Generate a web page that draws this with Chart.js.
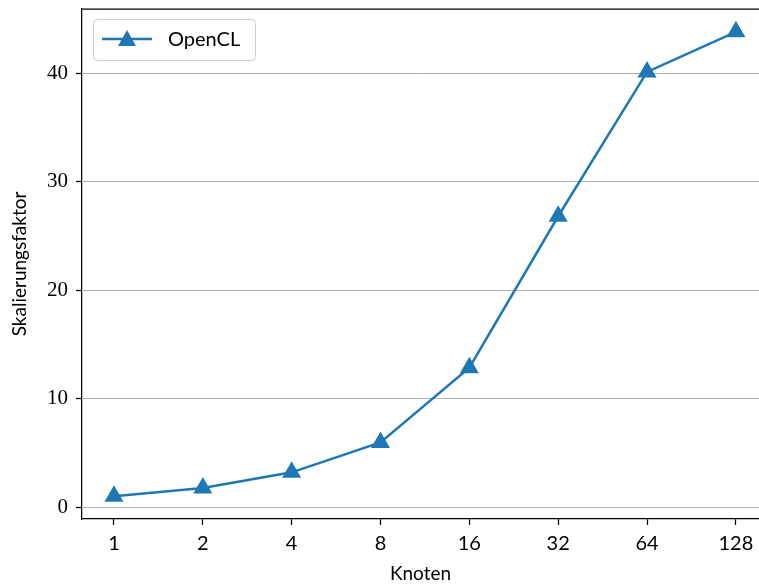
<!DOCTYPE html>
<html>
<head>
<meta charset="utf-8">
<script src="https://cdn.jsdelivr.net/npm/chart.js@4"></script>
<style>
  body { margin: 0; background: #fff; }
</style>
</head>
<body>
<canvas id="chart" width="759" height="586"></canvas>
<script>
var knoten = ['1', '2', '4', '8', '16', '32', '64', '128'];
var opencl = [1.0, 1.75, 3.2, 5.95, 12.85, 26.8, 40.1, 43.8];
var yTicks = [0, 10, 20, 30, 40];

var blue = '#1f77b4';

// Rahmen oben + Legende im Plotbereich
var extras = {
    id: 'extras',
    afterDraw: function (chart) {
        var c = chart.ctx, a = chart.chartArea;
        c.save();
        c.strokeStyle = '#000';
        c.lineWidth = 1.25;
        c.beginPath();
        c.moveTo(a.left, a.top);
        c.lineTo(a.right, a.top);
        c.stroke();

        c.fillStyle = 'rgba(255,255,255,0.8)';
        c.strokeStyle = '#cccccc';
        c.lineWidth = 1;
        c.beginPath();
        c.roundRect(93.5, 19.5, 162, 41, 4);
        c.fill();
        c.stroke();

        c.strokeStyle = blue;
        c.lineWidth = 2.5;
        c.beginPath();
        c.moveTo(102, 39);
        c.lineTo(152, 39);
        c.stroke();
        c.fillStyle = blue;
        c.beginPath();
        c.moveTo(127, 30);
        c.lineTo(136, 46);
        c.lineTo(118, 46);
        c.closePath();
        c.fill();

        c.fillStyle = '#000';
        c.font = '20px Lato';
        c.textBaseline = 'middle';
        c.fillText(chart.data.datasets[0].label, 168, 40);
        c.restore();
    }
};

new Chart(document.getElementById('chart').getContext('2d'), {
    type: 'line',
    data: {
        datasets: [{
            label: 'OpenCL',
            data: knoten.map(function (k, i) { return { x: i, y: opencl[i] }; }),
            borderColor: blue,
            backgroundColor: blue,
            borderWidth: 2.5,
            pointStyle: 'triangle',
            pointRadius: 11,
            pointHoverRadius: 11,
            pointBorderWidth: 0,
            tension: 0
        }]
    },
    options: {
        responsive: false,
        animation: false,
        layout: { autoPadding: false, padding: { top: 9, right: 0, left: 0, bottom: 0 } },
        plugins: {
            legend: { display: false },
            tooltip: { enabled: false }
        },
        scales: {
            x: {
                type: 'linear',
                min: -0.36,
                max: 7.26,
                afterBuildTicks: function (s) {
                    s.ticks = knoten.map(function (k, i) { return { value: i }; });
                },
                afterFit: function (s) {
                    s.height = 67;
                    s.paddingLeft = 0;
                    s.paddingRight = 0;
                },
                ticks: {
                    color: '#000',
                    font: { family: 'Lato', size: 20 },
                    padding: 7,
                    maxRotation: 0,
                    callback: function (v) { return knoten[v]; }
                },
                grid: { drawOnChartArea: false, tickLength: 6, tickColor: '#000', tickWidth: 1.25 },
                border: { color: '#000', width: 1.25 },
                title: {
                    display: true,
                    text: 'Knoten',
                    color: '#000',
                    font: { family: 'Lato', size: 19 },
                    padding: { top: 0, bottom: 1 }
                }
            },
            y: {
                min: -1.1,
                max: 45.9,
                afterBuildTicks: function (s) {
                    s.ticks = yTicks.map(function (v) { return { value: v }; });
                },
                afterFit: function (s) {
                    s.width = 82;
                    s.paddingTop = 0;
                    s.paddingBottom = 0;
                },
                ticks: {
                    color: '#000',
                    font: { family: 'Liberation Serif', size: 21 },
                    padding: 8
                },
                grid: { color: '#b0b0b0', lineWidth: 1, tickLength: 6, tickColor: '#000', tickWidth: 1.25 },
                border: { color: '#000', width: 1.25 },
                title: {
                    display: true,
                    text: 'Skalierungsfaktor',
                    color: '#000',
                    font: { family: 'Lato', size: 19 },
                    padding: { top: 8, bottom: 0 }
                }
            }
        }
    },
    plugins: [extras]
});
</script>
</body>
</html>
